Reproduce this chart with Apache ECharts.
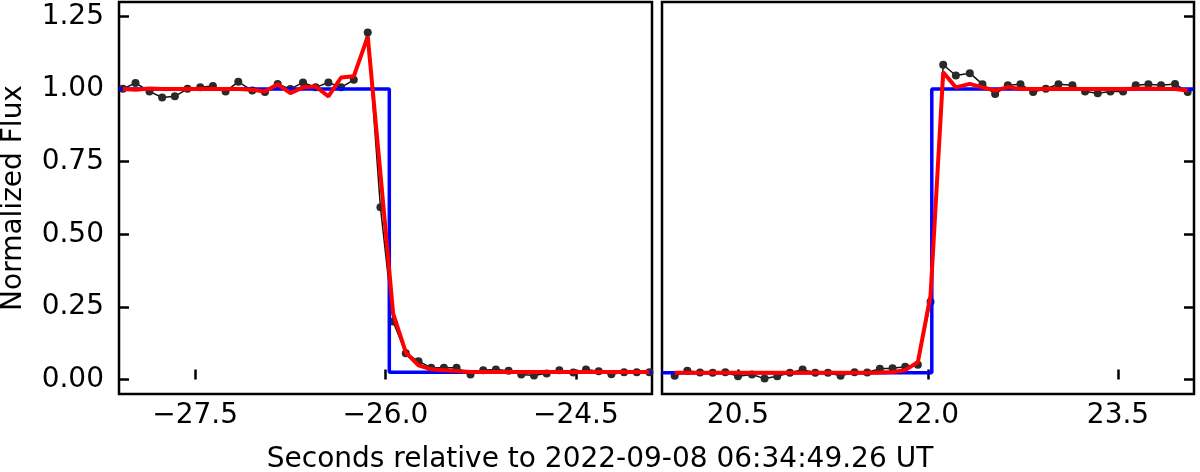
<!DOCTYPE html>
<html>
<head>
<meta charset="utf-8">
<script src="https://cdn.jsdelivr.net/npm/echarts@6/dist/echarts.min.js"></script>
<style>
html,body{margin:0;padding:0;background:#fff;}
#chart{width:1200px;height:472px;}
</style>
</head>
<body>
<div id="chart"></div>
<script>
// ---- Data ----
const leftTimes = [-28.07,-27.97,-27.86,-27.76,-27.66,-27.56,-27.46,-27.36,-27.26,-27.16,
  -27.05,-26.95,-26.85,-26.75,-26.65,-26.55,-26.45,-26.35,-26.25,-26.14,
  -26.04,-25.94,-25.84,-25.74,-25.64,-25.54,-25.44,-25.33,-25.23,-25.13,
  -25.03,-24.93,-24.83,-24.73,-24.63,-24.52,-24.42,-24.32,-24.22,-24.12,
  -24.02,-23.92];
const leftFlux = [1.001,1.021,0.992,0.971,0.975,1.001,1.006,1.011,0.992,1.025,
  0.995,0.990,1.018,1.000,1.023,1.006,1.023,1.006,1.032,1.195,
  0.593,0.200,0.090,0.063,0.040,0.040,0.040,0.017,0.032,0.034,
  0.030,0.017,0.014,0.021,0.032,0.024,0.034,0.028,0.018,0.025,
  0.025,0.025];
const leftFit = [1.000,0.998,1.002,1.000,1.000,1.000,1.000,1.000,1.000,1.000,
  0.998,0.992,1.017,0.986,1.006,1.009,0.975,1.040,1.044,1.181,
  0.710,0.228,0.093,0.049,0.035,0.032,0.029,0.026,0.026,0.026,
  0.026,0.026,0.026,0.026,0.026,0.026,0.026,0.026,0.026,0.026,
  0.026,0.026];
const leftModelT = [-28.1,-25.97,-25.97,-23.9];
const leftModelF = [1.0,1.0,0.025,0.025];

const rightTimes = [20.00,20.10,20.20,20.30,20.40,20.50,20.61,20.71,20.81,20.91,
  21.01,21.11,21.21,21.31,21.42,21.52,21.62,21.72,21.82,21.92,
  22.02,22.12,22.22,22.33,22.43,22.53,22.63,22.73,22.83,22.93,
  23.03,23.14,23.24,23.34,23.44,23.54,23.64,23.74,23.84,23.95,
  24.05];
const rightFlux = [0.013,0.030,0.024,0.023,0.025,0.011,0.017,0.003,0.011,0.023,
  0.034,0.023,0.023,0.013,0.025,0.024,0.037,0.039,0.044,0.051,
  0.268,1.084,1.047,1.055,1.017,0.983,1.013,1.017,0.990,1.001,
  1.017,1.013,0.992,0.986,0.992,0.992,1.013,1.017,1.013,1.018,
  0.990];
const rightFit = [0.023,0.023,0.023,0.023,0.023,0.023,0.023,0.023,0.023,0.023,
  0.023,0.023,0.023,0.023,0.023,0.023,0.024,0.026,0.032,0.060,
  0.290,1.058,1.006,1.018,1.006,0.995,1.007,1.000,1.000,1.000,
  1.000,1.000,1.000,1.000,1.000,1.000,1.001,1.002,1.001,1.000,
  0.995];
const rightModelT = [19.9,22.03,22.03,24.1];
const rightModelF = [0.023,0.023,1.0,1.0];

const leftTicks = [-27.5,-26.0,-24.5];
const rightTicks = [20.5,22.0,23.5];
const yTicks = [0,0.25,0.5,0.75,1.0,1.25];
const xTitle = 'Seconds relative to 2022-09-08 06:34:49.26 UT';
const yTitle = 'Normalized Flux';

// ---- Chart ----
const FONT = 'DejaVu Sans';
const FS = 28;
const zip = (a,b) => a.map((v,i)=>[v,b[i]]);
const fmtX = v => (v<0?'\u2212':'') + Math.abs(v).toFixed(1);

function xAxisFor(gi, min, max, ticks){
  return {
    type:'value', gridIndex:gi, min:min, max:max,
    axisLine:{show:false},
    splitLine:{show:false},
    axisTick:{show:true, inside:true, length:10, customValues:ticks, lineStyle:{color:'#000', width:2.5}},
    axisLabel:{show:true, customValues:ticks, formatter:fmtX, fontFamily:FONT, fontSize:FS, color:'#000', margin:8}
  };
}
function yAxisFor(gi, pos, showLabel){
  return {
    type:'value', gridIndex:gi, min:-0.05, max:1.3, position:pos,
    axisLine:{show:false},
    splitLine:{show:false},
    axisTick:{show:true, inside:true, length:10, customValues:yTicks, lineStyle:{color:'#000', width:2.5}},
    axisLabel:{show:showLabel, customValues:yTicks, formatter:v=>v.toFixed(2), fontFamily:FONT, fontSize:FS, color:'#000', margin:15}
  };
}
function dataSeries(xi, t, f){
  return {type:'line', xAxisIndex:xi, yAxisIndex:xi, data:zip(t,f),
    symbol:'circle', symbolSize:8, showSymbol:true,
    itemStyle:{color:'#2a2a2a', borderWidth:0},
    lineStyle:{color:'#111', width:1.5}, z:2, silent:true};
}
function lineSeries(xi, t, f, color, w, z){
  return {type:'line', xAxisIndex:xi, yAxisIndex:xi, data:zip(t,f),
    symbol:'none', lineStyle:{color:color, width:w}, z:z, silent:true};
}

const chart = echarts.init(document.getElementById('chart'), null, {renderer:'canvas'});
chart.setOption({
  animation:false,
  backgroundColor:'#fff',
  grid:[
    {left:119, top:2, width:533, height:392, show:true, borderColor:'#000', borderWidth:2.5, backgroundColor:'transparent'},
    {left:662, top:2, width:532, height:392, show:true, borderColor:'#000', borderWidth:2.5, backgroundColor:'transparent'}
  ],
  xAxis:[ xAxisFor(0,-28.1,-23.9,leftTicks), xAxisFor(1,19.9,24.1,rightTicks) ],
  yAxis:[ yAxisFor(0,'left',true), yAxisFor(1,'right',false) ],
  series:[
    dataSeries(0, leftTimes, leftFlux),
    lineSeries(0, leftModelT, leftModelF, '#0000ff', 3.5, 3),
    lineSeries(0, leftTimes, leftFit, '#ff0000', 4, 4),
    dataSeries(1, rightTimes, rightFlux),
    lineSeries(1, rightModelT, rightModelF, '#0000ff', 3.5, 3),
    lineSeries(1, rightTimes, rightFit, '#ff0000', 4, 4)
  ],
  graphic:[
    {type:'text', x:600, y:460, style:{text:xTitle, font:FS+'px "DejaVu Sans"', fill:'#000', align:'center', verticalAlign:'middle'}},
    {type:'text', x:14, y:198, rotation:Math.PI/2, style:{text:yTitle, font:FS+'px "DejaVu Sans"', fill:'#000', align:'center', verticalAlign:'middle'}}
  ]
});
</script>
</body>
</html>
